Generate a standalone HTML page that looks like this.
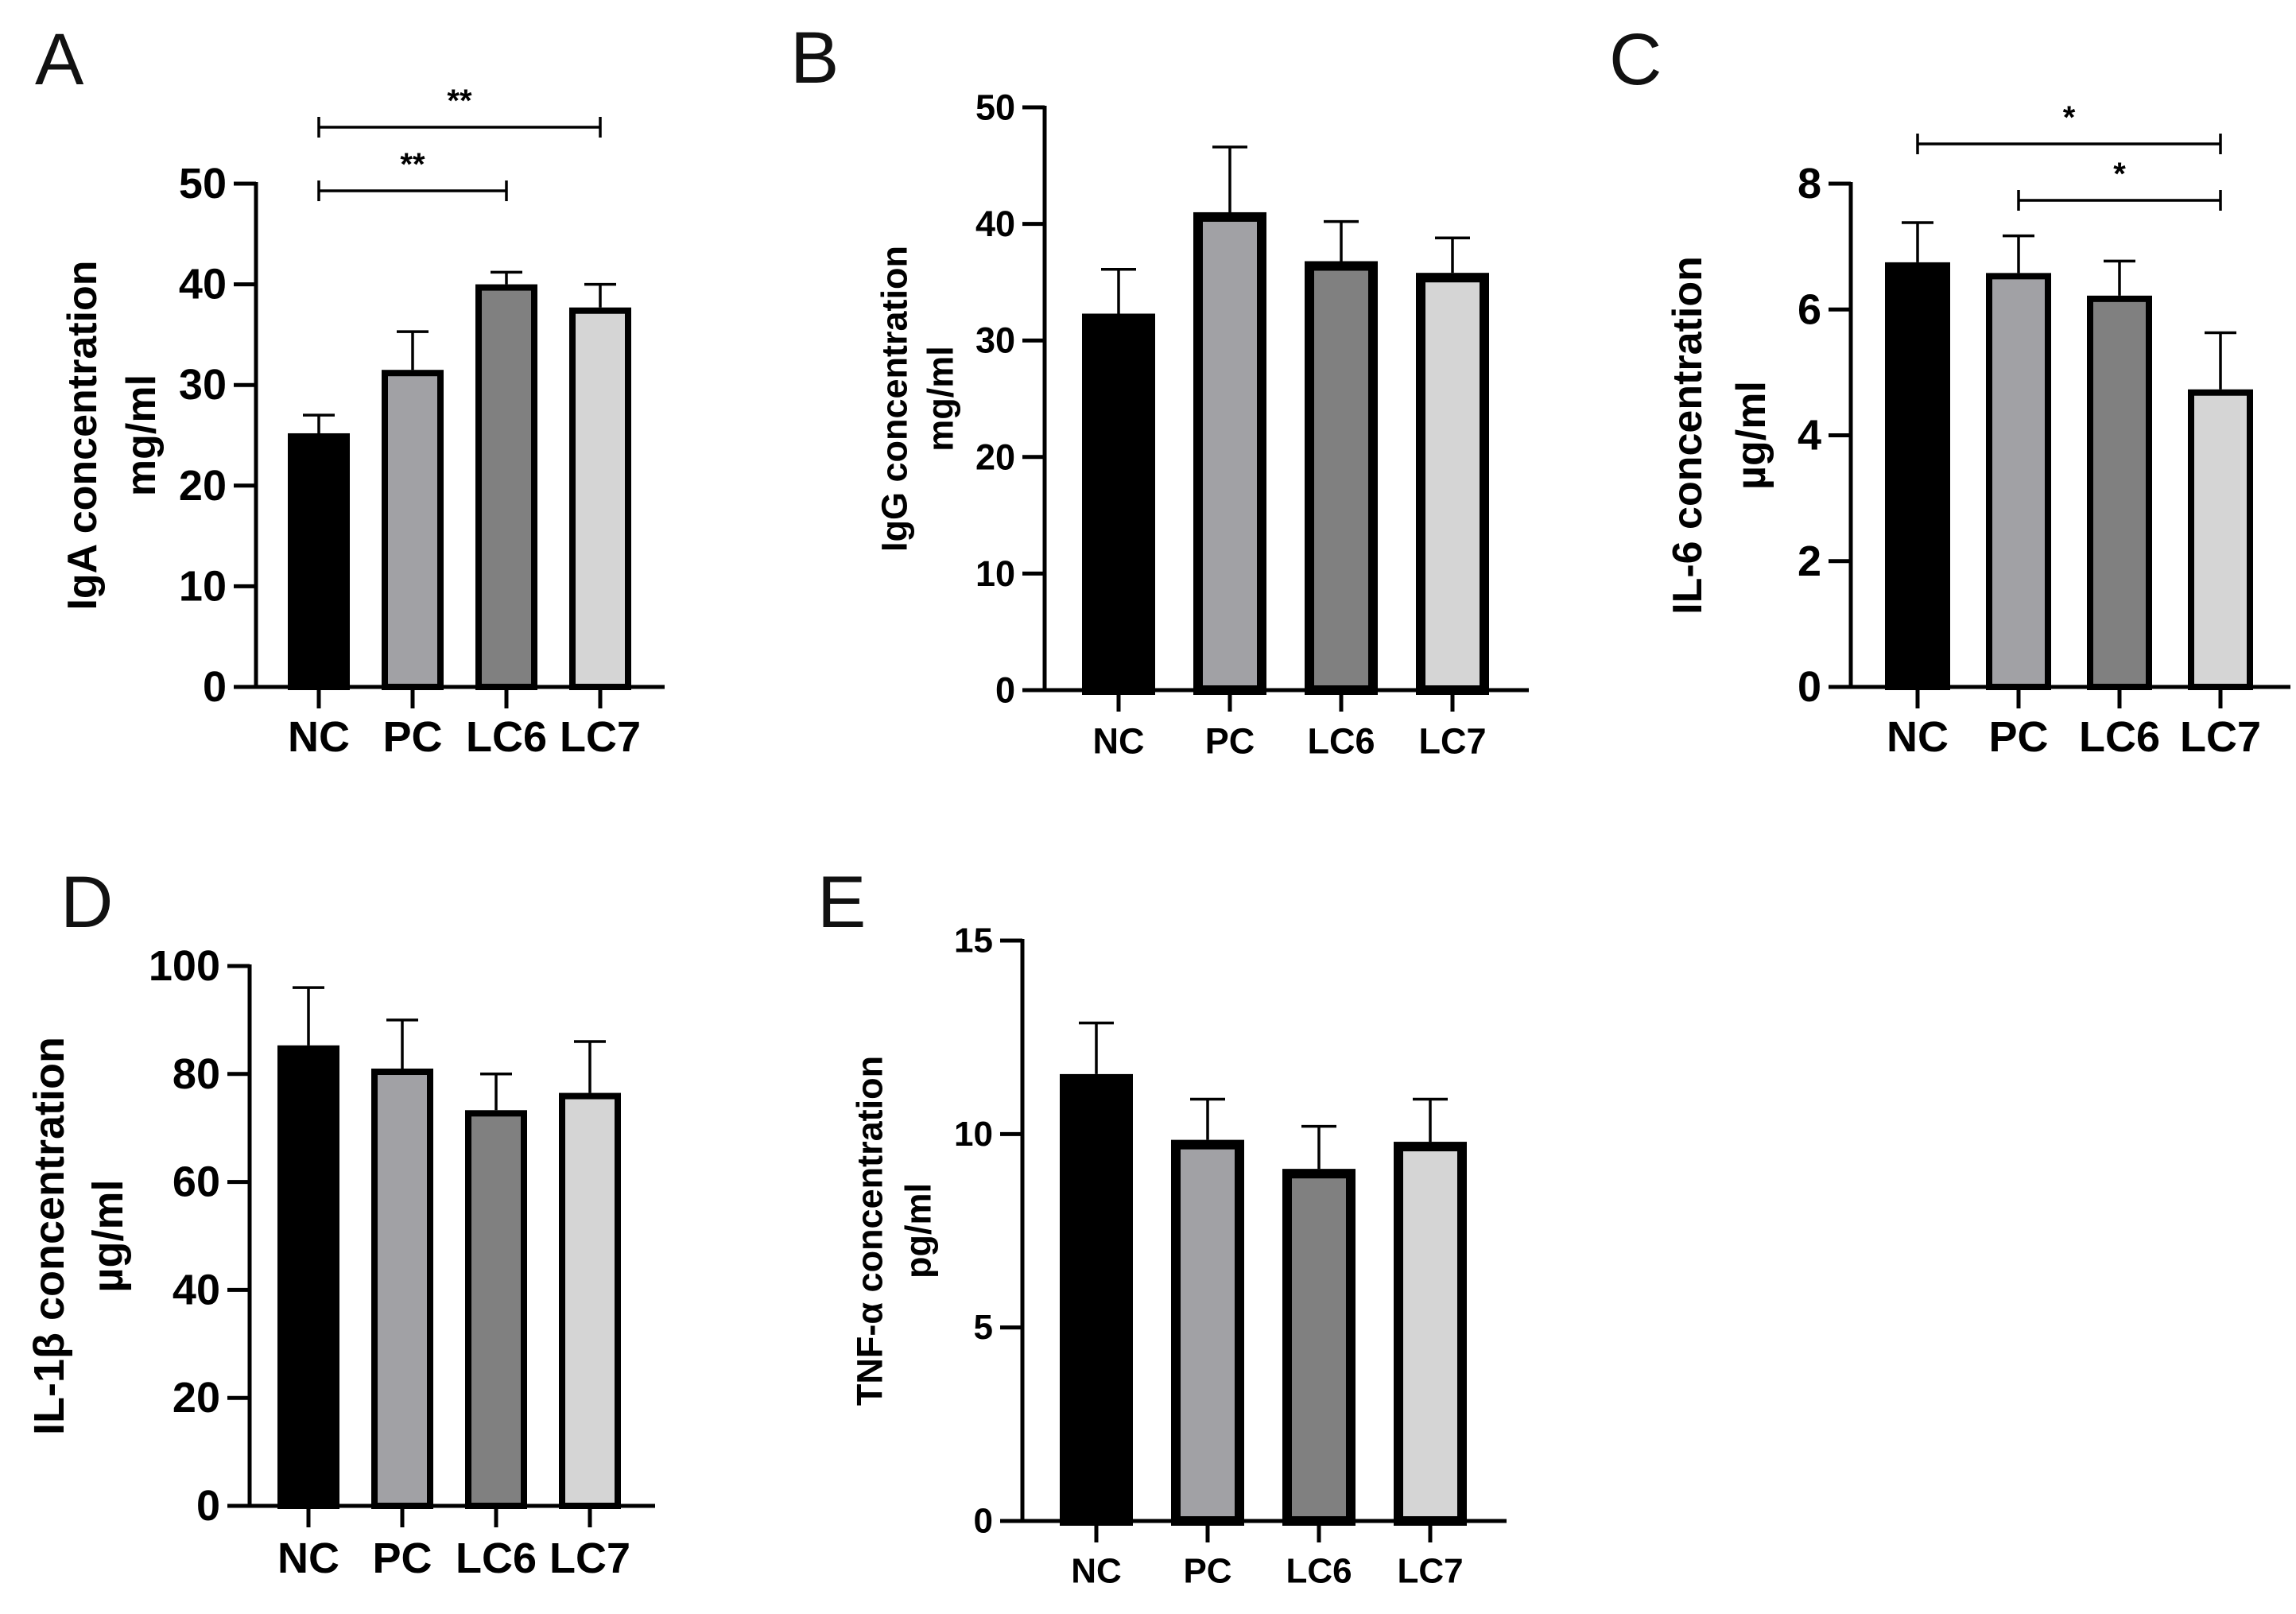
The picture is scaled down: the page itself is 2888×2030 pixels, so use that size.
<!DOCTYPE html>
<html><head><meta charset="utf-8"><style>
html,body{margin:0;padding:0;background:#fff;}
svg{display:block;font-family:"Liberation Sans",Arial,sans-serif;}
</style></head><body>
<svg id="fig" width="2888" height="2030" viewBox="0 0 2888 2030" xmlns="http://www.w3.org/2000/svg"></svg>
<script>
const categories = ["NC","PC","LC6","LC7"];
const fills = ["#000000","#a1a1a5","#808080","#d5d5d5"];
const igaMeans = [25.2, 31.5, 40.0, 37.7];
const igaErrs  = [27.0, 35.3, 41.2, 40.0];
const iggMeans = [32.3, 41.0, 36.8, 35.8];
const iggErrs  = [36.1, 46.6, 40.2, 38.8];
const il6Means = [6.75, 6.58, 6.22, 4.73];
const il6Errs  = [7.38, 7.17, 6.77, 5.63];
const il1bMeans = [85.3, 81.0, 73.3, 76.5];
const il1bErrs  = [96.0, 90.0, 80.0, 86.0];
const tnfMeans = [11.55, 9.85, 9.1, 9.8];
const tnfErrs  = [12.87, 10.9, 10.2, 10.9];
const igaTicks = [0,10,20,30,40,50];
const iggTicks = [0,10,20,30,40,50];
const il6Ticks = [0,2,4,6,8];
const il1bTicks = [0,20,40,60,80,100];
const tnfTicks = [0,5,10,15];

const NS = "http://www.w3.org/2000/svg";
const svg = document.getElementById("fig");
function mk(tag, attrs, parent){
  const e = document.createElementNS(NS, tag);
  for (const k in attrs) e.setAttribute(k, attrs[k]);
  (parent||svg).appendChild(e);
  return e;
}

function panel(p){
  const g = mk("g", {});
  
  
  const ymax = p.ticks[p.ticks.length-1];
  const y = v => p.y0 - (p.y0 - p.yTop) * v / ymax;
  const x = i => p.c0 + i * p.step;
  const L = mk("text", {x:p.lx, y:p.ly, "font-size":92, fill:"#111"}, g);
  L.textContent = p.letter;
  
  
  p.means.forEach((m, i) => {
    const cx = x(i);
    const el = mk("path", {d:`M${cx},${y(m)} V${y(p.errs[i])} M${cx-p.cap},${y(p.errs[i])} H${cx+p.cap}`, stroke:"#000", "stroke-width":3.5, fill:"none"}, g);
    
    
    const sw = p.bw;
    const top = y(m), bot = p.y0;
    const r = mk("rect", {x:cx - p.barW/2 + sw/2, y:top + sw/2, width:p.barW - sw, height:Math.max(0, bot - top - sw/2), fill:fills[i], stroke:"#000", "stroke-width":sw}, g);
    
    
  });
  const ax = mk("path", {d:`M${p.ax},${p.yTop-2} V${p.y0} M${p.ax - 28},${p.y0} H${p.xEnd}`, stroke:"#000", "stroke-width":5, fill:"none"}, g);
  
  
  p.ticks.forEach(t => {
    const tk = mk("line", {x1:p.ax-28, x2:p.ax, y1:y(t), y2:y(t), stroke:"#000", "stroke-width":5}, g);
    
    
    const tl = mk("text", {x:p.ax-37, y:y(t), "font-size":p.fs, "font-weight":"bold", "text-anchor":"end", "dominant-baseline":"central", fill:"#000"}, g);
    tl.textContent = t;
    
    
  });
  categories.forEach((c, i) => {
    const tk = mk("line", {x1:x(i), x2:x(i), y1:p.y0, y2:p.y0+27, stroke:"#000", "stroke-width":5}, g);
    
    
    const tl = mk("text", {x:x(i), y:p.xly, "font-size":p.fs, "font-weight":"bold", "text-anchor":"middle", "dominant-baseline":"central", fill:"#000"}, g);
    tl.textContent = c;
    
    
  });
  const cy = (p.y0 + p.yTop)/2;
  const t1 = mk("text", {x:p.t1x, y:cy, "font-size":p.tfs, "font-weight":"bold", "text-anchor":"middle", "dominant-baseline":"central", transform:`rotate(-90 ${p.t1x} ${cy})`}, g);
  t1.textContent = p.title;
  
  
  const t2 = mk("text", {x:p.t2x, y:cy, "font-size":p.tfs, "font-weight":"bold", "text-anchor":"middle", "dominant-baseline":"central", transform:`rotate(-90 ${p.t2x} ${cy})`}, g);
  t2.textContent = p.unit;
  
  
  (p.sig||[]).forEach(s => {
    const x1 = x(s.a), x2 = x(s.b);
    const sl = mk("path", {d:`M${x1},${s.y} H${x2} M${x1},${s.y-13} V${s.y+13} M${x2},${s.y-13} V${s.y+13}`, stroke:"#000", "stroke-width":3.5, fill:"none"}, g);
    
    
    const st = mk("text", {x:(x1+x2)/2, y:s.y-20, "font-size":40, "font-weight":"bold", "text-anchor":"middle"}, g);
    st.textContent = s.label;
    
    
  });
}

panel({name:"panel-a-iga", letter:"A", lx:44, ly:106, means:igaMeans, errs:igaErrs, ticks:igaTicks,
  ax:322, y0:864, yTop:231, c0:401, step:118, barW:78, bw:8, cap:20, xEnd:836, fs:54, xly:927,
  title:"IgA concentration", unit:"mg/ml", t1x:104, t2x:178, tfs:52,
  sig:[{a:0,b:3,y:160,label:"**"},{a:0,b:2,y:240,label:"**"}]});
panel({name:"panel-b-igg", letter:"B", lx:994, ly:104, means:iggMeans, errs:iggErrs, ticks:iggTicks,
  ax:1314, y0:868, yTop:135, c0:1407, step:140, barW:92, bw:12, cap:22, xEnd:1923, fs:45, xly:932,
  title:"IgG concentration", unit:"mg/ml", t1x:1125, t2x:1183, tfs:45});
panel({name:"panel-c-il6", letter:"C", lx:2024, ly:106, means:il6Means, errs:il6Errs, ticks:il6Ticks,
  ax:2328, y0:864, yTop:231, c0:2412, step:127, barW:82, bw:8, cap:20, xEnd:2881, fs:54, xly:927,
  title:"IL-6 concentration", unit:"µg/ml", t1x:2123, t2x:2203, tfs:52,
  sig:[{a:0,b:3,y:181,label:"*"},{a:1,b:3,y:252,label:"*"}]});
panel({name:"panel-d-il1b", letter:"D", lx:76, ly:1166, means:il1bMeans, errs:il1bErrs, ticks:il1bTicks,
  ax:314, y0:1894, yTop:1215, c0:388, step:118, barW:78, bw:8, cap:20, xEnd:824, fs:54, xly:1960,
  title:"IL-1β concentration", unit:"µg/ml", t1x:62, t2x:136, tfs:54});
panel({name:"panel-e-tnf", letter:"E", lx:1028, ly:1166, means:tnfMeans, errs:tnfErrs, ticks:tnfTicks,
  ax:1286, y0:1913, yTop:1183, c0:1379, step:140, barW:92, bw:12, cap:22, xEnd:1895, fs:44, xly:1976,
  title:"TNF-α concentration", unit:"pg/ml", t1x:1094, t2x:1155, tfs:45});
</script>
</body></html>
